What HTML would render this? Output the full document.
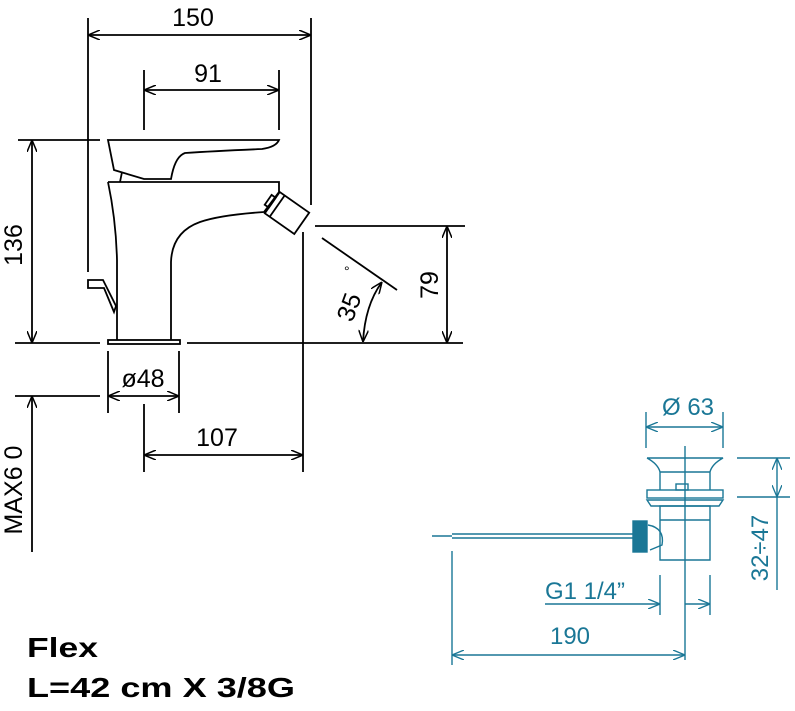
<!DOCTYPE html>
<html><head><meta charset="utf-8"><style>
html,body{margin:0;padding:0;background:#fff;}
svg{display:block;}
text{font-family:"Liberation Sans",sans-serif;}
</style></head><body>
<svg width="795" height="711" viewBox="0 0 795 711" xmlns="http://www.w3.org/2000/svg">
<defs>
<marker id="a" viewBox="0 0 12 10" refX="12" refY="5" markerWidth="12" markerHeight="10" markerUnits="userSpaceOnUse" orient="auto-start-reverse"><path d="M0,0 L12,5 L0,10" fill="none" stroke="#000" stroke-width="1.5"/></marker>
<marker id="t" viewBox="0 0 12 10" refX="12" refY="5" markerWidth="12" markerHeight="10" markerUnits="userSpaceOnUse" orient="auto-start-reverse"><path d="M0,0 L12,5 L0,10" fill="none" stroke="#1a7796" stroke-width="1.3"/></marker>
</defs>
<g stroke="#000" stroke-width="1.8" fill="none">
<line x1="88" y1="18" x2="88" y2="272"/>
<line x1="311" y1="18" x2="311" y2="205"/>
<line x1="88" y1="35" x2="311" y2="35" marker-start="url(#a)" marker-end="url(#a)"/>
<line x1="144" y1="70" x2="144" y2="130"/>
<line x1="279" y1="70" x2="279" y2="130"/>
<line x1="144" y1="90" x2="279" y2="90" marker-start="url(#a)" marker-end="url(#a)"/>
<line x1="18" y1="140" x2="100" y2="140"/>
<line x1="32" y1="140" x2="32" y2="343" marker-start="url(#a)" marker-end="url(#a)"/>
<line x1="15" y1="343" x2="100" y2="343"/>
<line x1="187" y1="343" x2="463" y2="343"/>
<line x1="15" y1="396" x2="100" y2="396"/>
<line x1="32" y1="396" x2="32" y2="552" marker-start="url(#a)"/>
<line x1="108" y1="351" x2="108" y2="413"/>
<line x1="179" y1="351" x2="179" y2="413"/>
<line x1="108" y1="396" x2="179" y2="396" marker-start="url(#a)" marker-end="url(#a)"/>
<line x1="144" y1="404" x2="144" y2="472"/>
<line x1="303" y1="232" x2="303" y2="472"/>
<line x1="144" y1="455" x2="303" y2="455" marker-start="url(#a)" marker-end="url(#a)"/>
<line x1="315" y1="226" x2="465" y2="226"/>
<line x1="447" y1="226" x2="447" y2="343" marker-start="url(#a)" marker-end="url(#a)"/>
<line x1="322" y1="238" x2="397" y2="290"/>
<path d="M363,342 Q365,305 382,282" marker-start="url(#a)" marker-end="url(#a)"/>
<path d="M108,140 L279,140 Q276,147 262,149 Q215,151 185,153 Q176,156 172,174 L171,179 L144,179 L114,170 Z"/>
<path d="M122,172 L120,182"/>
<path d="M108,182 L279,182 L279,192 L264,212 Q220,215 200,222 Q172,232 171,262 L171,340"/>
<path d="M108,182 Q116,220 117,260 L117,340"/>
<rect x="108" y="340" width="72" height="4"/>
<path d="M88,280 L103,280 L116,306 L114,312 L104,288 L88,288 Z"/>
<g transform="translate(287,213) rotate(35)">
<rect x="-18" y="-13" width="36" height="26"/>
<line x1="-12" y1="-13" x2="-12" y2="13"/>
<rect x="-23" y="-6" width="5" height="12"/>
</g>
</g>
<g fill="#000" font-size="25">
<text x="193" y="26" text-anchor="middle">150</text>
<text x="208" y="82" text-anchor="middle">91</text>
<text x="143" y="387" text-anchor="middle">ø48</text>
<text x="217" y="446" text-anchor="middle">107</text>
<text transform="translate(22,245) rotate(-90)" text-anchor="middle">136</text>
<text transform="translate(22,490) rotate(-90)" text-anchor="middle">MAX6 0</text>
<text transform="translate(438,285) rotate(-90)" text-anchor="middle">79</text>
<text transform="translate(357,310) rotate(-70)" text-anchor="middle">35</text>
<text x="344" y="276" font-size="14">°</text>
<text x="27" y="657" font-size="28" font-weight="bold" textLength="71" lengthAdjust="spacingAndGlyphs">Flex</text>
<text x="27" y="697" font-size="28" font-weight="bold" textLength="268" lengthAdjust="spacingAndGlyphs">L=42 cm X 3/8G</text>
</g>
<g stroke="#1a7796" stroke-width="1.4" fill="none">
<line x1="646" y1="412" x2="646" y2="448"/>
<line x1="723" y1="412" x2="723" y2="448"/>
<line x1="646" y1="427" x2="723" y2="427" marker-start="url(#t)" marker-end="url(#t)"/>
<line x1="685" y1="446" x2="685" y2="660"/>
<path d="M647,458 L723,458 Q712,464 710,472 L710,490 M647,458 Q658,464 660,472 L660,490"/>
<line x1="660" y1="472" x2="710" y2="472"/>
<rect x="676" y="484" width="12" height="6"/>
<rect x="647" y="490" width="76" height="8"/>
<path d="M647,500 L723,500 L719,506 L651,506 Z"/>
<path d="M660,506 L710,506 L710,560 L660,560 Z"/>
<line x1="660" y1="520" x2="710" y2="520"/>
<path d="M648,525 Q665,528 662,545 L650,550"/>
<rect x="633" y="521" width="14" height="31" fill="#1a7796"/>
<line x1="452" y1="534" x2="633" y2="534"/>
<line x1="452" y1="538" x2="633" y2="538"/>
<line x1="432" y1="536" x2="452" y2="536"/>
<line x1="737" y1="458" x2="790" y2="458"/>
<line x1="737" y1="497" x2="790" y2="497"/>
<line x1="777" y1="458" x2="777" y2="497" marker-start="url(#t)" marker-end="url(#t)"/>
<line x1="777" y1="497" x2="777" y2="590"/>
<line x1="660" y1="575" x2="660" y2="615"/>
<line x1="710" y1="575" x2="710" y2="615"/>
<line x1="545" y1="604" x2="660" y2="604" marker-end="url(#t)"/>
<line x1="685" y1="604" x2="710" y2="604" marker-end="url(#t)"/>
<line x1="452" y1="551" x2="452" y2="665"/>
<line x1="452" y1="655" x2="685" y2="655" marker-start="url(#t)" marker-end="url(#t)"/>
</g>
<g fill="#1a7796" font-size="24">
<text x="688" y="415" text-anchor="middle">Ø 63</text>
<text x="585" y="599" text-anchor="middle">G1 1/4”</text>
<text x="570" y="644" text-anchor="middle">190</text>
<text transform="translate(768,548) rotate(-90)" text-anchor="middle">32÷47</text>
</g>
</svg>
</body></html>
